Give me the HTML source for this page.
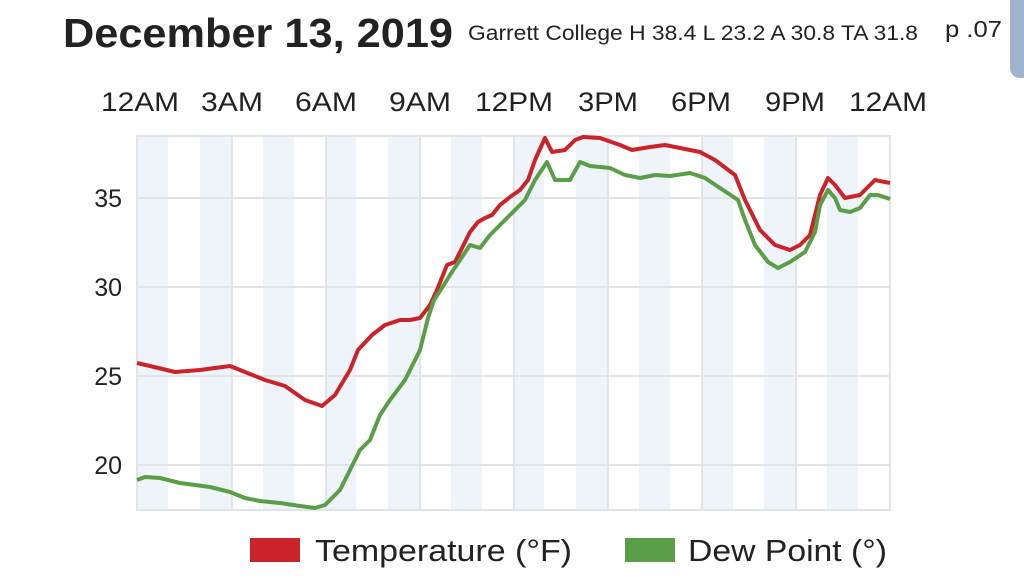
<!DOCTYPE html>
<html><head><meta charset="utf-8"><style>
body{margin:0;width:1024px;height:573px;background:#fff;overflow:hidden;font-family:"Liberation Sans",sans-serif;}
</style></head><body>
<svg width="1024" height="573" xmlns="http://www.w3.org/2000/svg" font-family="Liberation Sans, sans-serif">
<rect x="1010" y="-10" width="30" height="88" rx="10" fill="#9fb4cc"/>
<text x="63" y="47" font-size="41" font-weight="bold" fill="#222" textLength="390" lengthAdjust="spacingAndGlyphs">December 13, 2019</text>
<text x="468" y="40" font-size="21" fill="#222" textLength="450" lengthAdjust="spacingAndGlyphs">Garrett College H 38.4 L 23.2 A 30.8 TA 31.8</text>
<text x="945" y="37" font-size="23" fill="#222" textLength="57" lengthAdjust="spacingAndGlyphs">p .07</text>
<g font-size="27" fill="#222" text-anchor="middle" lengthAdjust="spacingAndGlyphs">
<text x="140" y="111" textLength="78" lengthAdjust="spacingAndGlyphs">12AM</text><text x="232" y="111" textLength="62" lengthAdjust="spacingAndGlyphs">3AM</text><text x="326" y="111" textLength="62" lengthAdjust="spacingAndGlyphs">6AM</text>
<text x="420" y="111" textLength="62" lengthAdjust="spacingAndGlyphs">9AM</text><text x="514" y="111" textLength="78" lengthAdjust="spacingAndGlyphs">12PM</text><text x="608" y="111" textLength="60" lengthAdjust="spacingAndGlyphs">3PM</text>
<text x="701" y="111" textLength="60" lengthAdjust="spacingAndGlyphs">6PM</text><text x="795" y="111" textLength="60" lengthAdjust="spacingAndGlyphs">9PM</text><text x="888" y="111" textLength="78" lengthAdjust="spacingAndGlyphs">12AM</text>
</g>
<g fill="#eef4fa">
<rect x="137" y="136" width="31" height="374"/><rect x="200" y="136" width="31" height="374"/>
<rect x="263" y="136" width="31" height="374"/><rect x="325" y="136" width="31" height="374"/>
<rect x="388" y="136" width="31" height="374"/><rect x="451" y="136" width="31" height="374"/>
<rect x="513" y="136" width="31" height="374"/><rect x="576" y="136" width="31" height="374"/>
<rect x="639" y="136" width="31" height="374"/><rect x="702" y="136" width="31" height="374"/>
<rect x="764" y="136" width="31" height="374"/><rect x="827" y="136" width="31" height="374"/>
</g>
<g stroke="#e2e4e8" stroke-width="2" fill="none">
<rect x="137" y="136" width="753" height="374"/>
<line x1="137" y1="198" x2="890" y2="198"/><line x1="137" y1="287" x2="890" y2="287"/>
<line x1="137" y1="376" x2="890" y2="376"/><line x1="137" y1="465" x2="890" y2="465"/>
<line x1="232" y1="136" x2="232" y2="510"/><line x1="326" y1="136" x2="326" y2="510"/>
<line x1="420" y1="136" x2="420" y2="510"/><line x1="514" y1="136" x2="514" y2="510"/>
<line x1="608" y1="136" x2="608" y2="510"/><line x1="702" y1="136" x2="702" y2="510"/>
<line x1="796" y1="136" x2="796" y2="510"/>
</g>
<g font-size="25" fill="#222" text-anchor="end">
<text x="122" y="207">35</text><text x="122" y="296">30</text><text x="122" y="385">25</text><text x="122" y="474">20</text>
</g>
<polyline fill="none" stroke="#cc2229" stroke-width="4" stroke-linejoin="round" points="137,363 150,366 175,372 200,370 230,366 245,372 265,380 285,386 305,400 322,406 335,395 350,370 358,350 372,335 385,325 400,320 410,320 420,318 430,305 437,290 447,265 455,262 462,248 470,232 478,222 485,218 492,215 500,205 510,197 520,190 528,180 535,160 545,138 552,152 565,150 575,140 583,137 600,138 620,145 632,150 650,147 665,145 680,148 700,152 715,160 735,175 745,200 760,230 775,245 790,250 800,245 810,235 820,195 828,178 835,185 845,198 860,195 868,187 875,180 890,183"/>
<polyline fill="none" stroke="#5a9e47" stroke-width="4" stroke-linejoin="round" points="137,480 145,477 160,478 180,483 210,487 230,492 245,498 260,501 280,503 300,506 315,508 325,505 340,490 350,470 360,450 370,440 380,415 390,400 405,380 420,350 428,318 434,300 442,288 450,275 460,260 470,245 480,248 490,235 500,225 515,210 525,200 535,180 547,162 555,180 570,180 580,162 590,166 610,168 625,175 640,178 655,175 670,176 690,173 705,178 720,188 738,200 745,220 755,245 768,262 778,268 790,262 805,252 815,232 820,205 828,190 835,198 840,210 850,212 860,208 870,195 878,195 890,199"/>
<rect x="250" y="538" width="50" height="24" fill="#cc2229"/>
<text x="315" y="561" font-size="31" fill="#222" textLength="257" lengthAdjust="spacingAndGlyphs">Temperature (°F)</text>
<rect x="625" y="538" width="50" height="24" fill="#5a9e47"/>
<text x="688" y="561" font-size="31" fill="#222" textLength="199" lengthAdjust="spacingAndGlyphs">Dew Point (°)</text>
</svg>
</body></html>
